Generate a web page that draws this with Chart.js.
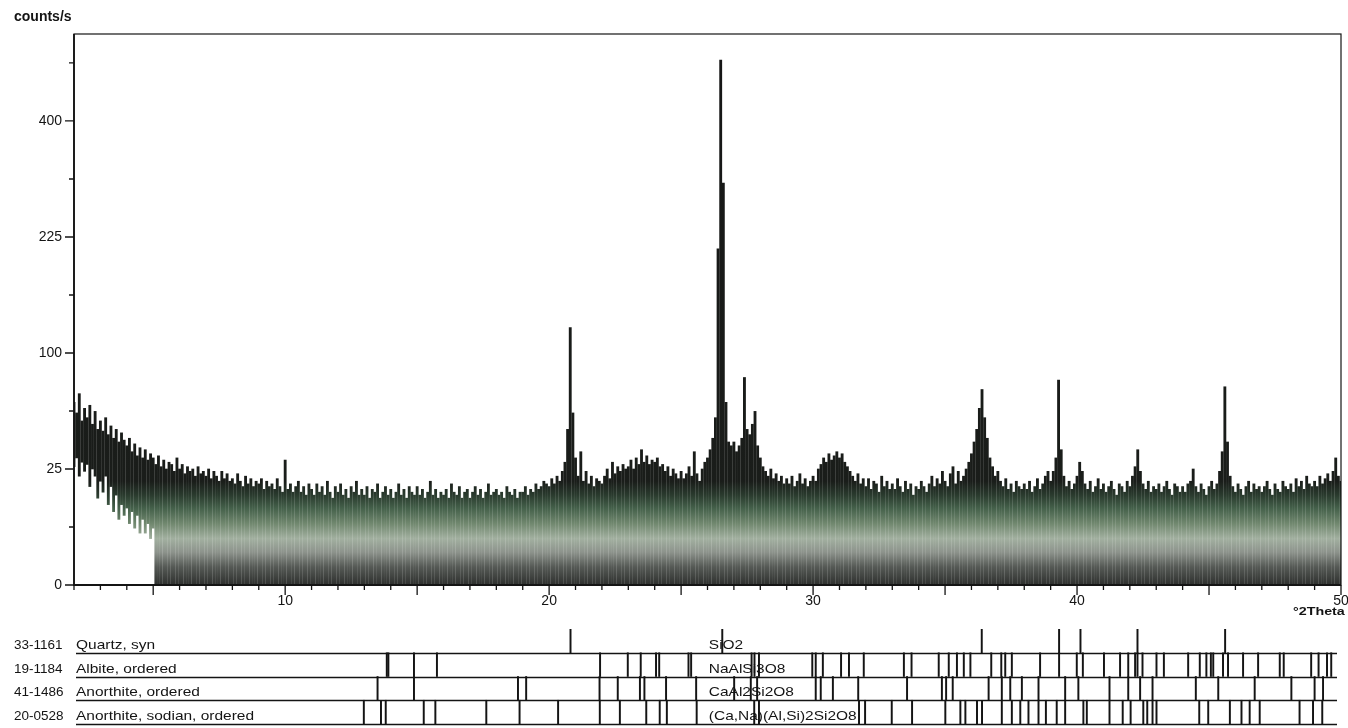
<!DOCTYPE html>
<html>
<head>
<meta charset="utf-8">
<script src="https://cdn.jsdelivr.net/npm/chart.js@4.4.1/dist/chart.umd.min.js"></script>
<style>
  html, body { margin: 0; padding: 0; background: #fff; }
  #wrap { position: relative; width: 1348px; height: 728px; overflow: hidden; }
  .pane { position: absolute; left: 0; width: 1348px; }
</style>
</head>
<body>
<div id="wrap">
  <div class="pane" style="top:0;height:620px"><canvas id="scan"></canvas></div>
  <div class="pane" style="top:620px;height:108px"><canvas id="refs"></canvas></div>
</div>
<script>
// ---- scan grid (°2Theta) ----
const scanStart = 2.0;
const scanStep = 0.1;
const thetaMin = 2;
const thetaMax = 50;

// Count rate per 0.1° step, counts/s, from 2.0° to 50.0°
const counts = [
  62,55,68,50,58,52,60,48,56,45,
  50,44,52,42,47,40,45,38,43,39,
  36,40,33,37,31,35,30,34,29,32,
  30,27,31,26,29,25,28,27,24,30,
  25,27,23,26,24,25,22,26,23,24,
  22,25,21,24,22,20,24,21,23,20,
  21,19,23,20,18,22,19,21,18,20,
  19,21,17,20,18,19,17,21,18,16,
  29,17,19,16,18,20,16,18,15,19,
  17,15,19,16,18,15,20,16,14,18,
  16,19,15,17,14,18,16,20,15,17,
  15,18,14,17,16,19,14,16,18,15,
  17,14,16,19,15,17,14,18,16,15,
  18,15,17,14,16,20,15,17,14,16,
  15,17,14,19,16,15,18,14,16,17,
  14,16,18,15,17,14,16,19,15,16,
  17,15,16,14,18,16,15,17,14,16,
  16,18,15,17,16,19,17,18,20,19,
  18,21,19,22,20,24,28,45,123,55,
  30,22,33,20,24,19,22,18,21,20,
  19,22,25,21,28,23,26,24,27,25,
  26,29,25,30,27,34,28,31,27,29,
  28,30,26,27,24,26,22,25,23,21,
  24,21,23,26,22,33,23,20,25,28,
  30,34,40,52,210,512,300,62,38,36,
  38,33,36,40,80,45,42,48,56,36,
  30,26,24,22,25,21,23,20,22,19,
  21,19,22,18,20,23,19,21,18,20,
  22,20,25,27,30,28,32,29,31,33,
  30,32,28,26,24,22,20,23,19,21,
  18,21,17,20,19,16,22,18,20,17,
  19,17,21,18,16,20,17,19,15,18,
  17,20,18,16,19,22,18,21,19,24,
  20,18,23,26,19,24,20,22,25,28,
  32,38,45,58,71,52,40,30,26,22,
  24,20,18,21,17,19,16,20,18,17,
  19,17,20,16,18,21,17,19,22,24,
  20,24,30,78,34,22,18,20,17,19,
  22,28,24,19,17,20,16,18,21,17,
  19,16,18,20,17,15,19,18,16,20,
  18,22,26,34,24,19,17,20,16,18,
  17,19,16,18,20,17,15,19,18,16,
  18,16,19,20,25,18,16,19,17,15,
  18,20,17,19,24,33,73,38,22,18,
  16,19,17,15,18,20,16,19,17,18,
  16,18,20,17,15,19,17,16,20,18,
  17,19,16,21,18,20,17,22,19,18,
  20,18,22,19,21,23,20,24,30,22,
  20
];

// Lower edge of the noise band at the low-angle end (2.0° … 5.0°), counts/s
const bandFloor = [
  26,30,22,28,24,27,18,25,22,14,
  20,16,22,12,18,10,15,8,12,9,
  11,7,10,6,9,5,8,5,7,4,
  6
];

// Axis ticks
const yTickCounts = [0, 25, 100, 225, 400];
const yTopCounts = 564;
const xTickLabels = [10, 20, 30, 40, 50];

// Reference patterns (stick positions, °2Theta)
const refCodes = ['33-1161', '19-1184', '41-1486', '20-0528'];
const refNames = ['Quartz, syn', 'Albite, ordered', 'Anorthite, ordered', 'Anorthite, sodian, ordered'];
const refFormulas = ['SiO2', 'NaAlSi3O8', 'CaAl2Si2O8', '(Ca,Na)(Al,Si)2Si2O8'];

const quartzLines = [20.81, 26.56, 36.39, 39.32, 40.13, 42.29, 45.61];
const albiteLines = [
  13.85, 13.91, 14.88, 15.75, 21.93, 22.98, 23.47, 24.05, 24.17, 25.28, 25.38,
  27.67, 27.78, 27.95, 29.97, 30.10, 30.37, 31.06, 31.36, 31.92, 33.44, 33.73,
  34.76, 35.14, 35.45, 35.71, 35.96, 36.75, 37.13, 37.28, 37.53, 38.60, 39.32,
  39.99, 40.22, 41.02, 41.63, 41.94, 42.20, 42.29, 42.48, 43.01, 43.29, 44.21,
  44.65, 44.90, 45.07, 45.16, 45.53, 45.72, 46.29, 46.86, 47.68, 47.83, 48.87,
  49.15, 49.47, 49.63
];
const anorthiteLines = [
  13.50, 14.88, 18.82, 19.13, 21.91, 22.60, 23.44, 23.61, 24.43, 25.57, 27.01,
  27.64, 27.88, 30.10, 30.29, 30.75, 31.71, 33.56, 34.88, 35.04, 35.29, 36.65,
  37.15, 37.47, 37.91, 38.54, 39.55, 40.05, 41.23, 41.94, 42.39, 42.86, 44.50,
  45.35, 46.73, 48.12, 49.00, 49.32
];
const sodianLines = [
  12.98, 13.63, 13.81, 15.25, 15.69, 17.62, 18.88, 20.34, 21.92, 22.68, 23.68,
  24.19, 24.46, 25.59, 27.77, 27.95, 31.74, 31.97, 32.98, 33.75, 35.01, 35.58,
  35.77, 36.21, 36.40, 37.15, 37.53, 37.85, 38.16, 38.54, 38.82, 39.23, 39.55,
  40.24, 40.37, 41.23, 41.73, 42.03, 42.51, 42.66, 42.86, 43.01, 44.63, 44.97,
  45.79, 46.23, 46.54, 46.92, 48.43, 48.94, 49.29
];
const refLines = [quartzLines, albiteLines, anorthiteLines, sodianLines];

// ---- helpers ----
const INK = '#141414';
const FONT = '"Liberation Sans", Arial, sans-serif';
const root = c => Math.sqrt(c);   // square-root intensity axis

const scanPoints = counts.map((c, i) => ({
  x: +(scanStart + i * scanStep).toFixed(2),
  y: [root(bandFloor[i] || 0), root(c)]
}));

// vertical shading of the trace, keyed to count levels
const shadeStops = [
  [yTopCounts, '#161616'],
  [20, '#1a1d1a'],
  [15, '#2a3b2e'],
  [11, '#44604a'],
  [7, '#71886f'],
  [4, '#a2b0a0'],
  [2, '#8d938c'],
  [0.6, '#555955'],
  [0, '#2e302e']
];
let shadeCache = null;
function traceShade(context) {
  const chart = context.chart;
  const area = chart.chartArea;
  if (!area) return '#333';
  const key = area.top + ':' + area.bottom;
  if (shadeCache && shadeCache.key === key) return shadeCache.g;
  const ys = chart.scales.y;
  const g = chart.ctx.createLinearGradient(0, area.top, 0, area.bottom);
  shadeStops.forEach(([c, col]) => {
    const p = (ys.getPixelForValue(root(c)) - area.top) / (area.bottom - area.top);
    g.addColorStop(Math.min(1, Math.max(0, p)), col);
  });
  shadeCache = { key, g };
  return g;
}

// draws text widened horizontally, as in the printed captions
function wideText(ctx, txt, px, py, stretch) {
  ctx.save();
  ctx.translate(px, py);
  ctx.scale(stretch, 1);
  ctx.fillText(txt, 0, 0);
  ctx.restore();
}

// frame, tick marks and axis captions of the scan plot
const scanFrame = {
  id: 'scanFrame',
  afterDraw(chart) {
    const { ctx, chartArea: a, scales: { x, y } } = chart;
    ctx.save();
    ctx.strokeStyle = INK;
    ctx.lineWidth = 1.2;
    ctx.strokeRect(a.left, a.top, a.right - a.left, a.bottom - a.top);
    ctx.lineWidth = 1.8;
    ctx.beginPath();
    ctx.moveTo(a.left, a.top); ctx.lineTo(a.left, a.bottom); ctx.lineTo(a.right, a.bottom);
    ctx.stroke();
    ctx.lineWidth = 1.3;
    ctx.beginPath();
    for (let t = thetaMin; t <= thetaMax; t++) {
      const px = x.getPixelForValue(t);
      const len = t % 5 === 0 ? 10 : 5;
      ctx.moveTo(px, a.bottom); ctx.lineTo(px, a.bottom + len);
    }
    for (let k = 0; k * 2.5 < root(yTopCounts); k++) {
      const py = y.getPixelForValue(k * 2.5);
      const len = k % 2 === 0 ? 9 : 5;
      ctx.moveTo(a.left - len, py); ctx.lineTo(a.left, py);
    }
    ctx.stroke();
    ctx.fillStyle = INK;
    ctx.textBaseline = 'alphabetic';
    ctx.textAlign = 'left';
    ctx.font = 'bold 14px ' + FONT;
    ctx.fillText('counts/s', 14, 21);
    ctx.font = 'bold 11px ' + FONT;
    wideText(ctx, '°2Theta', 1293, 615, 1.3);
    ctx.restore();
  }
};

new Chart(document.getElementById('scan'), {
  type: 'bar',
  data: {
    datasets: [{
      data: scanPoints,
      backgroundColor: traceShade,
      borderWidth: 0,
      barThickness: 2.2,
      grouped: false
    }]
  },
  options: {
    responsive: true,
    maintainAspectRatio: false,
    animation: false,
    events: [],
    layout: { padding: { top: 34, right: 7, left: 0, bottom: 0 } },
    plugins: { legend: { display: false }, tooltip: { enabled: false } },
    scales: {
      x: {
        type: 'linear',
        min: thetaMin,
        max: thetaMax,
        offset: false,
        grid: { display: false, drawTicks: false, offset: false },
        border: { display: false },
        afterBuildTicks: s => { s.ticks = xTickLabels.map(v => ({ value: v })); },
        afterFit: s => { s.height = 35; s.paddingLeft = 0; s.paddingRight = 0; },
        ticks: { color: INK, font: { family: FONT, size: 14 }, padding: 8, maxRotation: 0, callback: v => String(v) }
      },
      y: {
        type: 'linear',
        min: 0,
        max: root(yTopCounts),
        grid: { display: false, drawTicks: false },
        border: { display: false },
        afterBuildTicks: s => { s.ticks = yTickCounts.map(c => ({ value: root(c) })); },
        afterFit: s => { s.width = 74; s.paddingTop = 0; s.paddingBottom = 0; },
        ticks: { color: INK, font: { family: FONT, size: 14 }, padding: 12, callback: v => String(Math.round(v * v)) }
      }
    }
  },
  plugins: [scanFrame]
});

// row rules and captions of the reference-pattern panel
const captionStretch = 1.19;
const refCaptions = {
  id: 'refCaptions',
  beforeDatasetsDraw(chart) {
    const { ctx, chartArea: a, scales: { y } } = chart;
    ctx.save();
    ctx.strokeStyle = INK;
    ctx.lineWidth = 1.4;
    ctx.beginPath();
    for (let k = 0; k < refCodes.length; k++) {
      const py = Math.round(y.getPixelForValue(k)) + 0.5;
      ctx.moveTo(a.left + 2, py); ctx.lineTo(a.right - 4, py);
    }
    ctx.stroke();
    ctx.restore();
  },
  afterDatasetsDraw(chart) {
    const { ctx, scales: { x, y } } = chart;
    ctx.save();
    ctx.fillStyle = INK;
    ctx.textBaseline = 'alphabetic';
    const formulaX = x.getPixelForValue(26.05);
    refCodes.forEach((code, r) => {
      const level = refCodes.length - 1 - r;
      const base = y.getPixelForValue(level) - 4;
      ctx.font = '13.5px ' + FONT;
      ctx.fillText(code, 14, base);
      ctx.font = '13px ' + FONT;
      wideText(ctx, refNames[r], 76, base, captionStretch);
      wideText(ctx, refFormulas[r], formulaX, base, captionStretch);
    });
    ctx.restore();
  }
};

new Chart(document.getElementById('refs'), {
  type: 'bar',
  data: {
    datasets: refLines.map((lines, r) => {
      const level = refLines.length - 1 - r;
      return {
        data: lines.map(t => ({ x: t, y: [level, level + 1] })),
        backgroundColor: INK,
        borderWidth: 0,
        barThickness: 1.3,
        grouped: false
      };
    })
  },
  options: {
    responsive: true,
    maintainAspectRatio: false,
    animation: false,
    events: [],
    layout: { padding: { top: 9, right: 7, left: 74, bottom: 4 } },
    plugins: { legend: { display: false }, tooltip: { enabled: false } },
    scales: {
      x: { type: 'linear', min: thetaMin, max: thetaMax, offset: false, display: false },
      y: { type: 'linear', min: 0, max: refCodes.length, display: false }
    }
  },
  plugins: [refCaptions]
});
</script>
</body>
</html>
